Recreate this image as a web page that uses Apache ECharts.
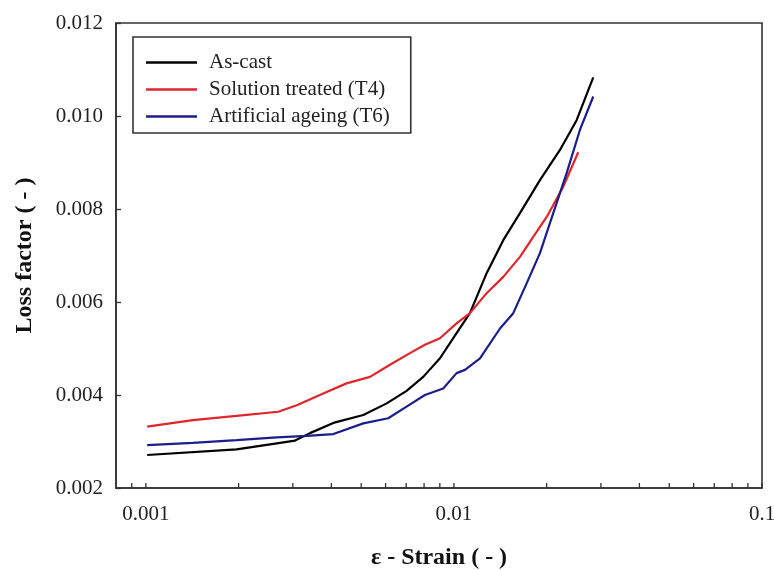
<!DOCTYPE html>
<html>
<head>
<meta charset="utf-8">
<script src="https://cdn.jsdelivr.net/npm/echarts@6/dist/echarts.min.js"></script>
<style>
  html, body { margin: 0; padding: 0; background: #fff; }
  #chart { width: 775px; height: 570px; }
</style>
</head>
<body>
<div id="chart"></div>
<script>
// strain values (x) and loss factor (y)
var asCastX = [0.00101, 0.00197, 0.00266, 0.00305, 0.00341, 0.00406, 0.00508, 0.00605, 0.00702, 0.00795, 0.00901, 0.0102, 0.01127, 0.01277, 0.01446, 0.01638, 0.01902, 0.02209, 0.02502, 0.02833];
var asCastY = [0.00271, 0.00283, 0.00296, 0.00302, 0.00318, 0.0034, 0.00357, 0.00382, 0.00409, 0.00439, 0.00479, 0.00533, 0.00576, 0.00662, 0.00733, 0.00791, 0.00862, 0.00927, 0.00991, 0.01083];

var t4X = [0.00101, 0.00142, 0.00197, 0.00269, 0.00309, 0.00367, 0.00448, 0.00534, 0.0062, 0.0072, 0.00805, 0.00901, 0.0102, 0.01127, 0.01277, 0.01446, 0.01638, 0.01809, 0.02, 0.02264, 0.02532];
var t4Y = [0.00332, 0.00346, 0.00355, 0.00364, 0.00378, 0.004, 0.00425, 0.00439, 0.00465, 0.0049, 0.00508, 0.00522, 0.00554, 0.00576, 0.00619, 0.00654, 0.00697, 0.0074, 0.00783, 0.00848, 0.00922];

var t6X = [0.00101, 0.00142, 0.00197, 0.00266, 0.00333, 0.00406, 0.00508, 0.00612, 0.00702, 0.00805, 0.00923, 0.0102, 0.01086, 0.01215, 0.01411, 0.01558, 0.01722, 0.01902, 0.02101, 0.02322, 0.02564, 0.02833];
var t6Y = [0.00292, 0.00297, 0.00303, 0.00309, 0.00312, 0.00316, 0.00339, 0.0035, 0.00375, 0.004, 0.00414, 0.00447, 0.00454, 0.00479, 0.00543, 0.00576, 0.0064, 0.00705, 0.00791, 0.00877, 0.0097, 0.01042];

var seriesNames = ['As-cast', 'Solution treated (T4)', 'Artificial ageing (T6)'];
var xTickValues = [0.0009, 0.001, 0.002, 0.003, 0.004, 0.005, 0.006, 0.007, 0.008, 0.009,
                   0.01, 0.02, 0.03, 0.04, 0.05, 0.06, 0.07, 0.08, 0.09, 0.1];
var xLabels = [0.001, 0.01, 0.1];

var xMin = 0.0008, xMax = 0.1;
var yMin = 0.002, yMax = 0.012;

function pairs(xs, ys) {
    var d = [];
    for (var i = 0; i < xs.length; i++) {
        d.push([xs[i], ys[i]]);
    }
    return d;
}

var serif = 'Liberation Serif';
var frame = '#333';

var option = {
    animation: false,
    backgroundColor: '#fff',
    grid: {
        left: 116, right: 13, top: 23, bottom: 82,
        outerBoundsMode: 'none',
        show: true, borderColor: frame, borderWidth: 1.6
    },
    legend: {
        orient: 'vertical',
        left: 133, top: 37,
        padding: [12, 21, 3, 13],
        icon: 'rect',
        itemWidth: 51, itemHeight: 2.5, itemGap: 0,
        borderColor: frame, borderWidth: 1.6,
        textStyle: { fontFamily: serif, fontSize: 21, color: '#222', lineHeight: 27, padding: [0, 0, 0, 7] },
        data: seriesNames
    },
    xAxis: {
        type: 'log', logBase: 10, min: xMin, max: xMax,
        name: 'ε - Strain ( - )', nameLocation: 'middle', nameGap: 58,
        nameTextStyle: { fontFamily: serif, fontSize: 24, fontWeight: 'bold', color: '#111' },
        axisLine: { lineStyle: { color: frame, width: 1.6 } },
        axisTick: { show: false },
        splitLine: { show: false },
        axisLabel: {
            margin: 16, fontFamily: serif, fontSize: 21, color: '#222',
            formatter: function (v) {
                for (var i = 0; i < xLabels.length; i++) {
                    if (Math.abs(v - xLabels[i]) / xLabels[i] < 1e-6) return String(xLabels[i]);
                }
                return '';
            }
        }
    },
    yAxis: {
        type: 'value', min: yMin, max: yMax, interval: 0.002,
        name: 'Loss factor ( - )', nameLocation: 'middle', nameGap: 79,
        nameTextStyle: { fontFamily: serif, fontSize: 24, fontWeight: 'bold', color: '#111' },
        axisLine: { show: true, lineStyle: { color: frame, width: 1.6 } },
        axisTick: { show: true, inside: true, length: 5, lineStyle: { color: frame, width: 1.3 } },
        splitLine: { show: false },
        axisLabel: {
            margin: 13, fontFamily: serif, fontSize: 21, color: '#222',
            formatter: function (v) { return v.toFixed(3); }
        }
    },
    series: [
        {
            name: seriesNames[0], type: 'line', symbol: 'none',
            lineStyle: { color: '#000', width: 2.2 }, itemStyle: { color: '#000' },
            data: pairs(asCastX, asCastY)
        },
        {
            name: seriesNames[1], type: 'line', symbol: 'none',
            lineStyle: { color: '#e0262b', width: 2.2 }, itemStyle: { color: '#e0262b' },
            data: pairs(t4X, t4Y)
        },
        {
            name: seriesNames[2], type: 'line', symbol: 'none',
            lineStyle: { color: '#1c1c8a', width: 2.2 }, itemStyle: { color: '#1c1c8a' },
            data: pairs(t6X, t6Y)
        },
        {
            // log-scale ticks on the bottom axis, pointing inward
            type: 'custom', silent: true, clip: false, z: 5,
            renderItem: function (params, api) {
                var p = api.coord([api.value(0), api.value(1)]);
                return {
                    type: 'line',
                    shape: { x1: p[0], y1: p[1], x2: p[0], y2: p[1] - 5 },
                    style: { stroke: frame, lineWidth: 1.3 }
                };
            },
            data: xTickValues.map(function (v) { return [v, yMin]; })
        }
    ]
};

var chart = echarts.init(document.getElementById('chart'));
chart.setOption(option);
</script>
</body>
</html>
